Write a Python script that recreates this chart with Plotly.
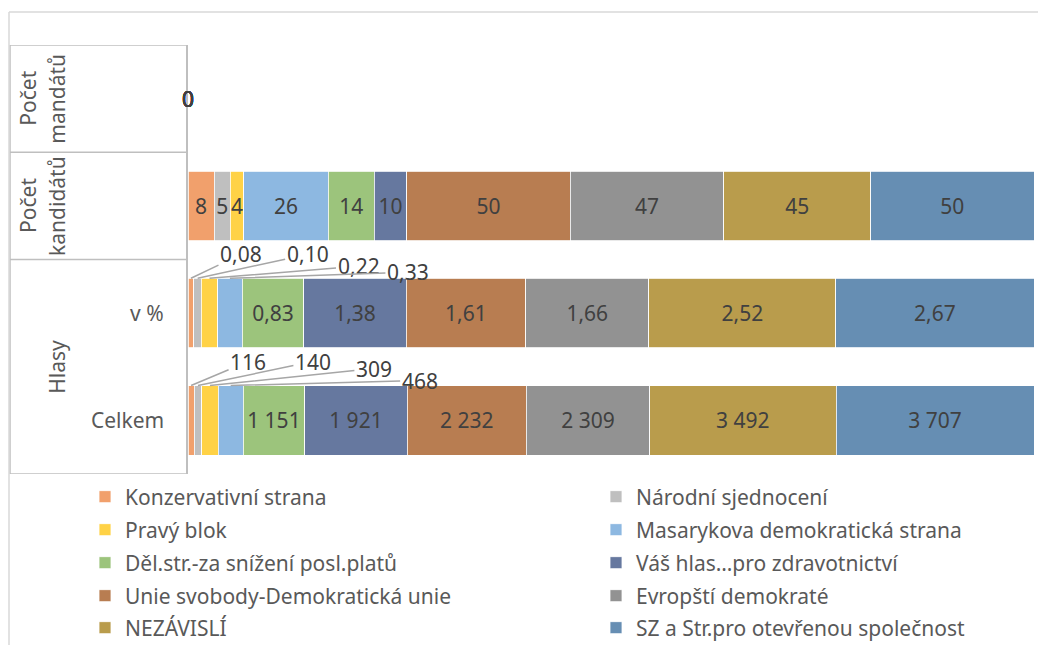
import plotly.graph_objects as go

# Reference canvas is 1046x645; the page body adds an 8px margin
OFF = 8
W, H = 1046 - OFF, 645 - OFF
PLOT_L, PLOT_R, PLOT_T, PLOT_B = 188, 1034, 45, 474  # in reference pixels

# Data
rows = ['Celkem', 'v %', 'Počet kandidátů', 'Počet mandátů']
parties = [
    'Konzervativní strana', 'Národní sjednocení', 'Pravý blok',
    'Masarykova demokratická strana', 'Děl.str.-za snížení posl.platů',
    'Váš hlas…pro zdravotnictví', 'Unie svobody-Demokratická unie',
    'Evropští demokraté', 'NEZÁVISLÍ', 'SZ a Str.pro otevřenou společnost',
]
votes_total = [116, 140, 309, 468, 1151, 1921, 2232, 2309, 3492, 3707]
votes_pct = [0.08, 0.10, 0.22, 0.33, 0.83, 1.38, 1.61, 1.66, 2.52, 2.67]
candidates = [8, 5, 4, 26, 14, 10, 50, 47, 45, 50]
mandates = [0, 0, 0, 0, 0, 0, 0, 0, 0, 0]
n_callouts = 4  # the first parties in the vote rows get leader-line labels

colors = ['#F1A06C', '#BFBFBF', '#FFD246', '#8DB8E1', '#9CC47C',
          '#66789F', '#B87D51', '#929292', '#B99C4C', '#668EB3']

# Styling offsets (pixels) for the callout labels
pct_offsets = [(50, -24), (110, -24), (149, -12), (178, -6)]
total_offsets = [(57, -24), (115, -24), (164, -17), (189, -5)]

FONT = 'Noto Sans'
FS = 21
TXT = '#404040'
LEG = '#595959'
LINE = '#BFBFBF'


def px_x(p):
    return (p - PLOT_L) / (PLOT_R - PLOT_L)


def px_y(p):
    return (PLOT_B - p) / (PLOT_B - PLOT_T)


def fmt_total(v):
    return f'{v:,.0f}'.replace(',', ' ')


def fmt_pct(v):
    return f'{v:.2f}'.replace('.', ',')


fig = go.Figure()

for i, name in enumerate(parties):
    big = i >= n_callouts
    text = [fmt_total(votes_total[i]) if big else '',
            fmt_pct(votes_pct[i]) if big else '',
            str(candidates[i]), '']
    fig.add_trace(go.Bar(
        name=name,
        y=rows,
        x=[votes_total[i], votes_pct[i], candidates[i], mandates[i]],
        orientation='h',
        marker=dict(color=colors[i], line=dict(color='white', width=0.8)),
        text=text,
        textposition='inside',
        insidetextanchor='middle',
        constraintext='none',
        textangle=0,
        textfont=dict(family=FONT, size=FS, color=TXT),
        legend='legend' if i == 0 else f'legend{i + 1}',
        hoverinfo='skip',
    ))

annotations = []


def add_callouts(values, fmt, row_idx, offsets):
    total = sum(values)
    cum = 0
    for i, v in enumerate(values):
        mid = (cum + v / 2) / total
        cum += v
        if i >= n_callouts:
            continue
        ax, ay = offsets[i]
        annotations.append(dict(
            x=mid, y=row_idx + 0.325, xref='x', yref='y',
            text=fmt(v), showarrow=True, arrowhead=0, arrowwidth=1.5,
            arrowcolor='#A6A6A6', ax=ax, ay=ay, standoff=0,
            font=dict(family=FONT, size=FS, color=TXT),
        ))


add_callouts(votes_pct, fmt_pct, 1, pct_offsets)
add_callouts(votes_total, fmt_total, 0, total_offsets)

# Mandates are all zero: their labels pile up at the axis
for v in mandates:
    annotations.append(dict(
        x=0, y='Počet mandátů', xref='x', yref='y', text=str(v),
        showarrow=False, xanchor='center',
        font=dict(family=FONT, size=FS, color=TXT),
    ))

# Category table labels
lab_font = dict(family=FONT, size=FS, color=LEG)
for row, second in [('Počet mandátů', 'mandátů'), ('Počet kandidátů', 'kandidátů')]:
    annotations.append(dict(x=px_x(28), y=row, xref='paper', yref='y', text='Počet',
                            textangle=-90, xanchor='center', yanchor='middle',
                            showarrow=False, font=lab_font))
    annotations.append(dict(x=px_x(57), y=row, xref='paper', yref='y', text=second,
                            textangle=-90, xanchor='center', yanchor='middle',
                            showarrow=False, font=lab_font))
annotations.append(dict(x=px_x(57), y=0.5, xref='paper', yref='y', text='Hlasy',
                        textangle=-90, xanchor='center', yanchor='middle',
                        showarrow=False, font=lab_font))
for row in ['v %', 'Celkem']:
    annotations.append(dict(x=px_x(166), y=row, xref='paper', yref='y', text=row,
                            xanchor='right', showarrow=False, font=lab_font))

shapes = []
for yb in [-0.5, 1.5, 2.5, 3.5]:
    shapes.append(dict(type='line', xref='paper', yref='y', x0=px_x(10), x1=0,
                       y0=yb, y1=yb, line=dict(color=LINE, width=1.5)))
shapes.append(dict(type='line', xref='paper', yref='y', x0=px_x(10), x1=px_x(10),
                   y0=-0.5, y1=3.5, line=dict(color=LINE, width=1.5)))
# chart border (top and left edges visible)
shapes.append(dict(type='line', xref='paper', yref='paper', x0=px_x(9), x1=px_x(1046),
                   y0=px_y(12), y1=px_y(12), line=dict(color='#D9D9D9', width=1.5)))
shapes.append(dict(type='line', xref='paper', yref='paper', x0=px_x(9), x1=px_x(9),
                   y0=px_y(12), y1=px_y(645), line=dict(color='#D9D9D9', width=1.5)))

# one legend per entry, laid out in two columns
legend_cols_x = [85, 596]
legend_rows_y = [497, 530, 563, 596, 628]
legends = {}
for i in range(len(parties)):
    key = 'legend' if i == 0 else f'legend{i + 1}'
    legends[key] = dict(
        x=px_x(legend_cols_x[i % 2]), xanchor='left',
        y=px_y(legend_rows_y[i // 2]), yanchor='middle',
        bgcolor='rgba(0,0,0,0)',
        font=dict(family=FONT, size=FS, color=LEG),
    )

fig.update_layout(
    width=W, height=H,
    barmode='stack', barnorm='fraction', bargap=0.35,
    paper_bgcolor='white', plot_bgcolor='white',
    margin=dict(l=PLOT_L - OFF, r=1046 - PLOT_R, t=PLOT_T - OFF, b=645 - PLOT_B,
                autoexpand=False),
    xaxis=dict(range=[0, 1], visible=False, fixedrange=True),
    yaxis=dict(categoryorder='array', categoryarray=rows, showticklabels=False,
               showgrid=False, zeroline=False, showline=True, linecolor=LINE,
               linewidth=1.5, ticks='', range=[-0.5, 3.5], fixedrange=True),
    annotations=annotations, shapes=shapes,
    showlegend=True,
    **legends,
)

fig.write_html('out.html')
